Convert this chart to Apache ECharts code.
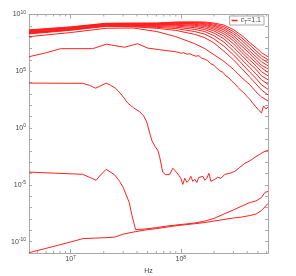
<!DOCTYPE html>
<html><head><meta charset="utf-8">
<script src="https://cdn.jsdelivr.net/npm/echarts@6/dist/echarts.min.js"></script>
<style>html,body{margin:0;padding:0;background:#fff}#c{width:296px;height:276px}</style>
</head><body><div id="c"></div>
<script>
// ---- data: frequencies as log10(Hz), spectra as log10(1e20 * Omega_GW h^2) ----
const logHzSmooth = [6.623, 7.000, 7.323, 7.568, 7.782, 7.955, 8.127, 8.218, 8.300, 8.391, 8.477, 8.555, 8.627, 8.682, 8.732, 8.791];
const band0  = [8.65, 8.91, 9.23, 9.25, 9.25, 9.34, 9.35, 9.34, 9.25, 9.07, 8.67, 8.14, 7.52, 7.08, 6.64, 6.28];
const band1  = [8.61, 8.88, 9.20, 9.21, 9.22, 9.30, 9.31, 9.27, 9.16, 8.94, 8.50, 7.92, 7.30, 6.81, 6.37, 6.02];
const band2  = [8.58, 8.85, 9.18, 9.19, 9.19, 9.27, 9.26, 9.20, 9.06, 8.79, 8.32, 7.70, 7.04, 6.55, 6.11, 5.75];
const band3  = [8.54, 8.81, 9.15, 9.16, 9.17, 9.22, 9.20, 9.12, 8.96, 8.65, 8.12, 7.45, 6.77, 6.28, 5.84, 5.49];
const band4  = [8.50, 8.79, 9.12, 9.13, 9.13, 9.18, 9.13, 9.04, 8.84, 8.48, 7.92, 7.19, 6.55, 6.02, 5.53, 5.22];
const band5  = [8.47, 8.76, 9.10, 9.11, 9.10, 9.12, 9.05, 8.94, 8.71, 8.30, 7.70, 6.90, 6.24, 5.75, 5.31, 4.91];
const band6  = [8.43, 8.73, 9.07, 9.07, 9.05, 9.06, 8.96, 8.81, 8.56, 8.10, 7.43, 6.64, 5.97, 5.49, 4.96, 4.60];
const band7  = [8.40, 8.70, 9.04, 9.04, 9.00, 8.98, 8.84, 8.67, 8.37, 7.86, 7.12, 6.37, 5.66, 5.18, 4.60, 4.25];
const band8  = [8.36, 8.67, 9.02, 9.00, 8.94, 8.88, 8.69, 8.50, 8.14, 7.57, 6.81, 6.02, 5.31, 4.78, 4.25, 3.85];
const band9  = [8.33, 8.64, 8.99, 8.96, 8.87, 8.76, 8.50, 8.27, 7.86, 7.21, 6.46, 5.66, 4.91, 4.38, 3.81, 3.41];
const band10 = [8.29, 8.61, 8.96, 8.92, 8.78, 8.60, 8.25, 7.96, 7.50, 6.77, 6.02, 5.22, 4.47, 3.89, 3.36, 2.92];
const curve2 = [8.05, 8.41, 8.79, 8.81, 8.50, 8.05, 7.43, 6.99, 6.46, 5.88, 5.18, 4.42, 3.81, 3.19, 2.74, 2.39];

const logHzC3 = [6.623, 6.782, 6.909, 7.200, 7.327, 7.400, 7.491, 7.609, 7.700, 7.809, 7.945, 7.973, 8.000, 8.027, 8.055, 8.082, 8.109, 8.136, 8.164, 8.191, 8.218, 8.245, 8.273, 8.300, 8.327, 8.355, 8.382, 8.409, 8.436, 8.464, 8.491, 8.518, 8.545, 8.573, 8.600, 8.627, 8.655, 8.682, 8.709, 8.732, 8.750, 8.773, 8.791];
const curve3  = [6.28, 6.64, 6.99, 6.99, 7.39, 7.26, 7.12, 7.43, 7.04, 6.90, 6.73, 6.68, 6.59, 6.64, 6.50, 6.55, 6.42, 6.33, 6.37, 6.15, 6.06, 5.93, 5.66, 5.53, 5.27, 5.04, 4.91, 4.60, 4.42, 4.12, 3.89, 3.58, 3.32, 3.10, 2.79, 2.52, 2.17, 1.86, 1.55, 1.33, 1.95, 1.68, 1.86];

const logHzC4 = [6.623, 7.109, 7.173, 7.227, 7.273, 7.323, 7.364, 7.409, 7.464, 7.518, 7.573, 7.627, 7.664, 7.691, 7.718, 7.736, 7.764, 7.791, 7.809, 7.836, 7.864, 7.900, 7.927, 7.955, 7.982, 8.000, 8.018, 8.036, 8.055, 8.073, 8.091, 8.109, 8.127, 8.145, 8.164, 8.182, 8.200, 8.218, 8.236, 8.255, 8.273, 8.291, 8.309, 8.336, 8.364, 8.400, 8.445, 8.491, 8.536, 8.582, 8.627, 8.673, 8.718, 8.755, 8.791];
const curve4  = [3.96, 3.94, 3.76, 3.51, 3.72, 3.96, 3.76, 3.50, 2.92, 2.21, 1.77, 1.44, 1.06, 0.53, -0.44, -1.06, -1.59, -1.95, -2.57, -3.89, -4.12, -4.07, -3.54, -3.81, -4.16, -4.42, -4.96, -4.42, -4.78, -4.60, -4.25, -4.69, -4.51, -4.78, -4.34, -4.51, -4.25, -4.60, -4.42, -3.98, -4.69, -4.60, -4.51, -4.34, -4.42, -4.07, -3.98, -3.81, -3.45, -3.10, -2.88, -2.57, -2.30, -2.08, -1.95];

const logHzC5 = [6.623, 7.109, 7.173, 7.232, 7.273, 7.323, 7.400, 7.445, 7.477, 7.532, 7.555, 7.573, 7.591, 7.673, 7.782, 7.873, 7.955, 8.041, 8.127, 8.218, 8.300, 8.391, 8.477, 8.555, 8.627, 8.682, 8.732, 8.764, 8.791];
const curve5  = [-3.88, -4.07, -4.34, -4.60, -4.12, -3.63, -4.12, -4.69, -5.22, -6.55, -7.61, -8.32, -8.94, -8.89, -8.76, -8.63, -8.54, -8.45, -8.36, -8.19, -7.96, -7.57, -7.21, -6.86, -6.55, -6.42, -6.11, -5.66, -5.58];

const logHzC6 = [6.623, 6.782, 7.000, 7.114, 7.227, 7.318, 7.400, 7.477, 7.568, 7.673, 7.782, 7.873, 7.955, 8.041, 8.127, 8.218, 8.300, 8.391, 8.477, 8.555, 8.627, 8.682, 8.732, 8.791];
const curve6  = [-10.97, -10.58, -10.03, -9.73, -9.69, -9.65, -9.60, -9.34, -9.16, -8.98, -8.85, -8.72, -8.60, -8.51, -8.42, -8.32, -8.19, -8.05, -7.92, -7.83, -7.70, -7.57, -7.26, -6.64];

const minorTickHz = [5e6, 6e6, 7e6, 8e6, 9e6, 2e7, 3e7, 4e7, 5e7, 6e7, 7e7, 8e7, 9e7, 2e8, 3e8, 4e8, 5e8, 6e8];
const X_MIN = 6.623, X_MAX = 8.791;   // log10(Hz)
const Y_MIN = -11, Y_MAX = 10;        // log10 of plotted quantity
const LEGEND = 'cT=1.1';

// ---- chart ----
const RED = '#ff1f1f';
const AX = '#a8a8a8';
const TXT = '#444';
const FONT = 'Liberation Sans';
const curves = [
  [logHzSmooth, band0], [logHzSmooth, band1], [logHzSmooth, band2], [logHzSmooth, band3],
  [logHzSmooth, band4], [logHzSmooth, band5], [logHzSmooth, band6], [logHzSmooth, band7],
  [logHzSmooth, band8], [logHzSmooth, band9], [logHzSmooth, band10], [logHzSmooth, curve2],
  [logHzC3, curve3], [logHzC4, curve4], [logHzC5, curve5], [logHzC6, curve6]
];
const lab = {
  a: {fontSize: 7, color: TXT, fontFamily: FONT, lineHeight: 9},
  b: {fontSize: 5, color: TXT, fontFamily: FONT, lineHeight: 5, verticalAlign: 'top'}
};
const chart = echarts.init(document.getElementById('c'), null, {renderer: 'canvas'});
const lineSeries = curves.map(([xs, ys]) => ({
  type: 'line', name: LEGEND, symbol: 'none', silent: true, animation: false,
  lineStyle: {color: RED, width: 1}, itemStyle: {color: RED},
  data: xs.map((lx, i) => [lx, ys[i]])
}));
const xAxisBase = {
  type: 'value', min: X_MIN, max: X_MAX, splitNumber: 2,
  axisLine: {show: true, onZero: false, lineStyle: {color: AX, width: 1}},
  axisTick: {show: true, inside: true, length: 4, lineStyle: {color: AX}},
  splitLine: {show: false}
};
const yAxisBase = {
  type: 'value', min: Y_MIN, max: Y_MAX, interval: 1,
  axisLine: {show: true, onZero: false, lineStyle: {color: AX, width: 1}},
  axisTick: {show: true, inside: true, length: 3, lineStyle: {color: AX}},
  splitLine: {show: false}
};
const isInt = v => Math.abs(v - Math.round(v)) < 1e-6;
chart.setOption({
  animation: false,
  grid: {left: 29, right: 28, top: 14.5, bottom: 23, containLabel: false, outerBoundsMode: 'none'},
  legend: {
    data: [LEGEND], right: 32, top: 16, orient: 'horizontal',
    backgroundColor: '#fff', borderColor: AX, borderWidth: 1, borderRadius: 0,
    padding: [1, 3, 0, 2], itemWidth: 6, itemHeight: 1.5, icon: 'rect', itemGap: 2,
    formatter: () => '{i|c}{s|T}{n|=1.1}',
    textStyle: {
      padding: [0, 0, 0, -2],
      rich: {
        i: {fontSize: 7, color: TXT, fontFamily: FONT, fontStyle: 'italic', lineHeight: 9},
        s: {fontSize: 5, color: TXT, fontFamily: FONT, lineHeight: 5, verticalAlign: 'bottom'},
        n: {fontSize: 7, color: TXT, fontFamily: FONT, lineHeight: 9}
      }
    }
  },
  xAxis: [
    Object.assign({}, xAxisBase, {
      position: 'bottom',
      axisLabel: {
        margin: 2, showMinLabel: false, showMaxLabel: false,
        formatter: v => isInt(v) ? '{a|10}{b|' + Math.round(v) + '}' : '',
        rich: lab
      },
      name: 'Hz', nameLocation: 'middle', nameGap: 9.5,
      nameTextStyle: {fontSize: 7, color: TXT, fontFamily: FONT}
    }),
    Object.assign({}, xAxisBase, {position: 'top', axisLabel: {show: false}})
  ],
  yAxis: [
    Object.assign({}, yAxisBase, {
      position: 'left',
      axisLabel: {
        margin: 3,
        formatter: v => (v % 5 === 0) ? '{a|10}{b|' + v + '}' : '',
        rich: lab
      },
      name: '{a|10}{b|20}{a|×Ω}{c|GW}{a|h}{b|2}', nameLocation: 'middle', nameGap: 15, nameRotate: 90,
      nameTextStyle: {
        padding: [0, 0, 0, 12],
        rich: {
          a: {fontSize: 7, color: TXT, fontFamily: FONT, lineHeight: 9},
          b: {fontSize: 5, color: TXT, fontFamily: FONT, lineHeight: 5, verticalAlign: 'top'},
          c: {fontSize: 5, color: TXT, fontFamily: FONT, lineHeight: 5, verticalAlign: 'bottom'}
        }
      }
    }),
    Object.assign({}, yAxisBase, {position: 'right', axisLabel: {show: false}})
  ],
  series: lineSeries.concat([{
    type: 'custom', name: 'minorTicks', coordinateSystem: 'cartesian2d', silent: true, clip: false,
    data: minorTickHz.map(f => [Math.log10(f), Y_MIN]),
    renderItem: (params, api) => {
      const f = api.value(0);
      const b = api.coord([f, Y_MIN]);
      const t = api.coord([f, Y_MAX]);
      return {type: 'group', children: [
        {type: 'line', shape: {x1: b[0], y1: b[1], x2: b[0], y2: b[1] - 2}, style: {stroke: AX, lineWidth: 1}},
        {type: 'line', shape: {x1: t[0], y1: t[1], x2: t[0], y2: t[1] + 2}, style: {stroke: AX, lineWidth: 1}}
      ]};
    }
  }])
});
</script>
</body></html>
